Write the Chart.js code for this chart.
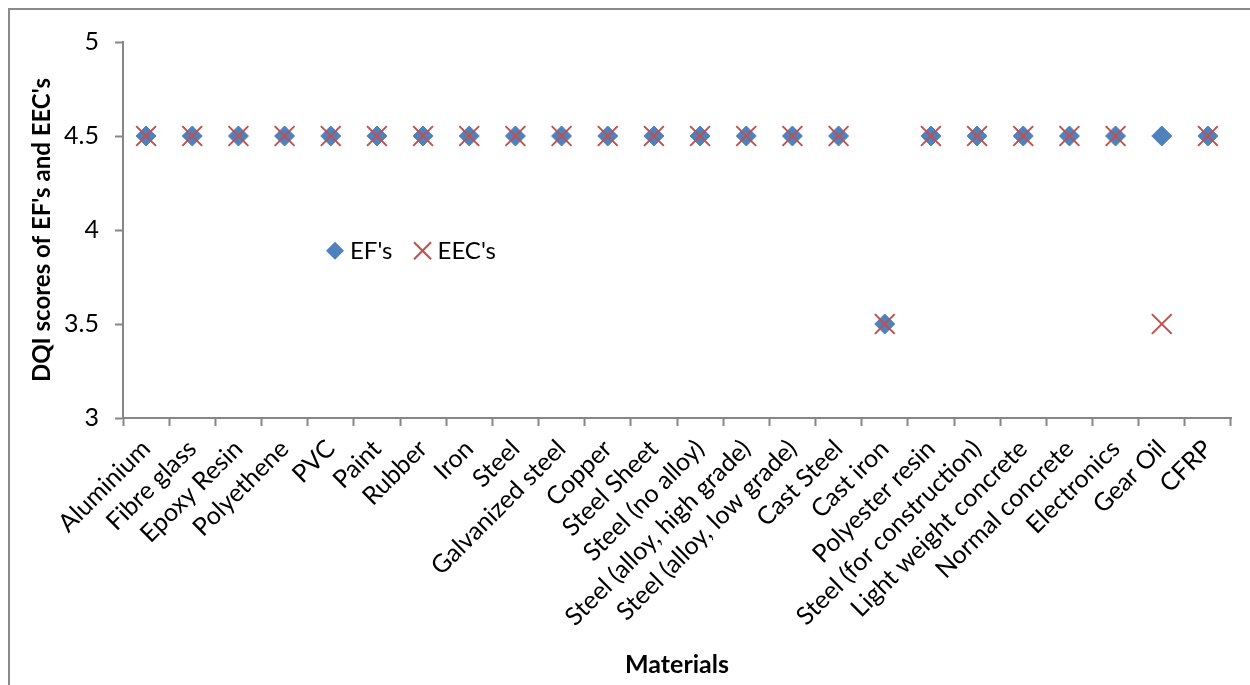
<!DOCTYPE html>
<html>
<head>
<meta charset="utf-8">
<script src="https://cdn.jsdelivr.net/npm/chart.js@4/dist/chart.umd.min.js"></script>
<style>
  html, body { margin: 0; padding: 0; background: #ffffff; }
  #wrap { width: 1250px; height: 685px; }
</style>
</head>
<body>
<div id="wrap"><canvas id="c" width="1250" height="685"></canvas></div>
<script>
// Materials on the category axis
const materials = [
  "Aluminium", "Fibre glass", "Epoxy Resin", "Polyethene", "PVC", "Paint",
  "Rubber", "Iron", "Steel", "Galvanized steel", "Copper", "Steel Sheet",
  "Steel (no alloy)", "Steel (alloy, high grade)", "Steel (alloy, low grade)",
  "Cast Steel", "Cast iron", "Polyester resin", "Steel (for construction)",
  "Light weight concrete", "Normal concrete", "Electronics", "Gear Oil", "CFRP"
];

// DQI scores of emission factors
const efScores = [4.5, 4.5, 4.5, 4.5, 4.5, 4.5, 4.5, 4.5, 4.5, 4.5, 4.5, 4.5,
                  4.5, 4.5, 4.5, 4.5, 3.5, 4.5, 4.5, 4.5, 4.5, 4.5, 4.5, 4.5];

// DQI scores of embodied energy coefficients
const eecScores = [4.5, 4.5, 4.5, 4.5, 4.5, 4.5, 4.5, 4.5, 4.5, 4.5, 4.5, 4.5,
                   4.5, 4.5, 4.5, 4.5, 3.5, 4.5, 4.5, 4.5, 4.5, 4.5, 3.5, 4.5];

// Value axis ticks
const yTicks = [3, 3.5, 4, 4.5, 5];

const FONT = "Lato, 'Open Sans', 'DejaVu Sans', sans-serif";
const AXIS_GREY = "#868686";
const BLUE = "#4F81BD";
const RED = "#C0504D";

// Outer frame around the chart object
const framePlugin = {
  id: "frame",
  beforeDraw(chart) {
    const ctx = chart.ctx;
    ctx.save();
    ctx.fillStyle = "#ffffff";
    ctx.fillRect(0, 0, chart.width, chart.height);
    ctx.strokeStyle = "#8a8a8a";
    ctx.lineWidth = 2;
    ctx.strokeRect(9, 9, chart.width + 40, chart.height + 40);
    ctx.restore();
  }
};

// Legend drawn inside the plot area
const innerLegend = {
  id: "innerLegend",
  afterDraw(chart) {
    const ctx = chart.ctx;
    const y = chart.scales.y.getPixelForValue(3.89);
    let x = chart.chartArea.left + 212;
    ctx.save();
    ctx.font = "24px " + FONT;
    ctx.textBaseline = "middle";
    ctx.textAlign = "left";
    chart.data.datasets.slice().sort((a, b) => b.order - a.order).forEach(ds => {
      ctx.save();
      ctx.strokeStyle = ds.borderColor;
      ctx.fillStyle = ds.backgroundColor;
      ctx.lineWidth = ds.pointBorderWidth;
      if (ds.pointStyle === "rectRot") {
        const r = 9;
        ctx.beginPath();
        ctx.moveTo(x - r, y);
        ctx.lineTo(x, y - r);
        ctx.lineTo(x + r, y);
        ctx.lineTo(x, y + r);
        ctx.closePath();
        ctx.fill();
      } else {
        const r = 8.5;
        ctx.beginPath();
        ctx.moveTo(x - r, y - r);
        ctx.lineTo(x + r, y + r);
        ctx.moveTo(x + r, y - r);
        ctx.lineTo(x - r, y + r);
        ctx.stroke();
      }
      ctx.restore();
      ctx.fillStyle = "#000000";
      ctx.fillText(ds.label, x + 15, y + 1);
      x += 15 + ctx.measureText(ds.label).width + 30;
    });
    ctx.restore();
  }
};

new Chart(document.getElementById("c"), {
  type: "line",
  data: {
    labels: materials,
    datasets: [
      {
        label: "EF's",
        data: efScores,
        showLine: false,
        pointStyle: "rectRot",
        pointRadius: 10,
        pointHoverRadius: 10,
        backgroundColor: BLUE,
        borderColor: BLUE,
        pointBackgroundColor: BLUE,
        pointBorderColor: BLUE,
        pointBorderWidth: 1,
        order: 2
      },
      {
        label: "EEC's",
        data: eecScores,
        showLine: false,
        pointStyle: "crossRot",
        pointRadius: 14,
        pointHoverRadius: 14,
        backgroundColor: RED,
        borderColor: RED,
        pointBackgroundColor: RED,
        pointBorderColor: RED,
        pointBorderWidth: 2,
        order: 1
      }
    ]
  },
  options: {
    responsive: false,
    animation: false,
    layout: { padding: { top: 42, right: 19, left: 0, bottom: 0 } },
    plugins: {
      legend: { display: false },
      tooltip: { enabled: false }
    },
    scales: {
      x: {
        type: "category",
        offset: true,
        afterFit(scale) { scale.height = 267; },
        grid: {
          display: true,
          offset: true,
          drawOnChartArea: false,
          drawTicks: true,
          tickLength: 8,
          tickWidth: 2,
          tickColor: AXIS_GREY
        },
        border: { display: true, color: AXIS_GREY, width: 2 },
        ticks: {
          autoSkip: false,
          maxRotation: 45,
          minRotation: 45,
          padding: 8,
          color: "#000000",
          font: { family: FONT, size: 25 }
        },
        title: {
          display: true,
          text: "Materials",
          color: "#000000",
          font: { family: FONT, size: 25, weight: "bold" },
          padding: { top: 0, bottom: 5 }
        }
      },
      y: {
        min: 3,
        max: 5,
        afterFit(scale) { scale.width = 123; },
        afterBuildTicks(scale) { scale.ticks = yTicks.map(v => ({ value: v })); },
        grid: {
          display: true,
          drawOnChartArea: false,
          drawTicks: true,
          tickLength: 8,
          tickWidth: 2,
          tickColor: AXIS_GREY
        },
        border: { display: true, color: AXIS_GREY, width: 2 },
        ticks: {
          padding: 16,
          color: "#000000",
          font: { family: FONT, size: 25 },
          callback: v => String(v)
        },
        title: {
          display: true,
          text: "DQI scores of EF's and EEC's",
          color: "#000000",
          font: { family: FONT, size: 24, weight: "bold" },
          padding: { top: 28, bottom: 0 }
        }
      }
    }
  },
  plugins: [framePlugin, innerLegend]
});
</script>
</body>
</html>
